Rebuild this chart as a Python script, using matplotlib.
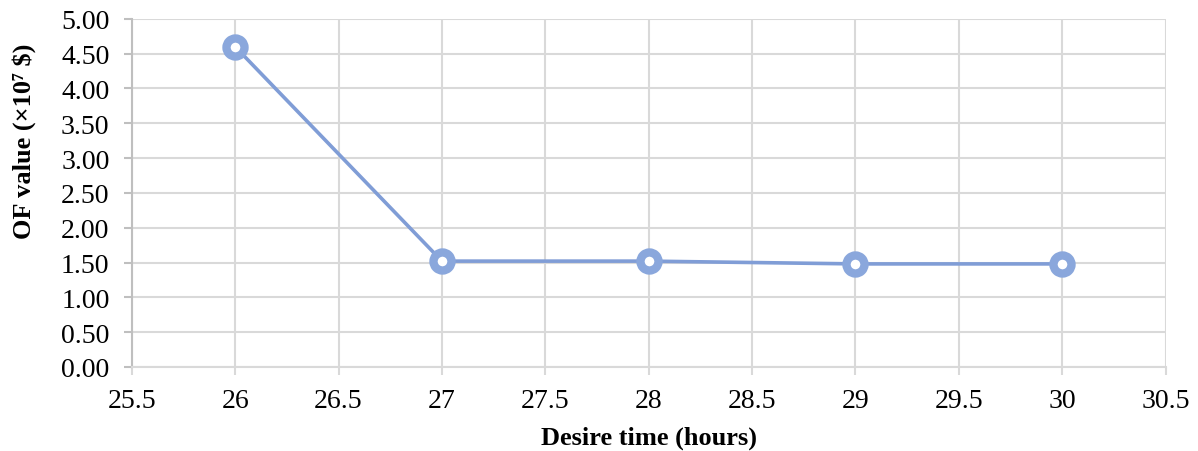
import numpy as np
from matplotlib import pyplot as plt

# data
hours = [26, 27, 28, 29, 30]
of_value = [4.60, 1.52, 1.52, 1.48, 1.48]

x_ticks = [25.5, 26, 26.5, 27, 27.5, 28, 28.5, 29, 29.5, 30, 30.5]
y_ticks = [0.0, 0.5, 1.0, 1.5, 2.0, 2.5, 3.0, 3.5, 4.0, 4.5, 5.0]


def plotter():
    plt.rcParams['font.family'] = ['Liberation Serif', 'DejaVu Serif']

    fig = plt.figure(figsize=(11.98, 4.52), dpi=100)
    ax = fig.add_axes([0.110, 0.186, 0.863, 0.770])

    ax.plot(hours, of_value, c='#809dd6', lw=2.6, zorder=3,
            marker='o', ms=13, mew=6, mfc='white', mec='#8aa7dc')

    ax.set_xlim(25.5, 30.5)
    ax.set_ylim(0, 5)
    ax.set_xticks(x_ticks)
    ax.set_xticklabels([f'{t:g}' for t in x_ticks])
    ax.set_yticks(y_ticks)
    ax.set_yticklabels([f'{t:.2f}' for t in y_ticks])

    ax.grid(True, color='#d9d9d9', lw=1.5)
    ax.set_axisbelow(True)
    for s in ['top', 'right']:
        ax.spines[s].set_visible(False)
    ax.spines['left'].set_color('#bfbfbf')
    ax.spines['left'].set_linewidth(1.5)
    ax.spines['bottom'].set_color('#d9d9d9')
    ax.spines['bottom'].set_linewidth(1.5)

    ax.tick_params(axis='both', labelsize=20, length=6, width=1.5)
    ax.tick_params(axis='y', pad=10, color='#bfbfbf')
    ax.tick_params(axis='x', pad=9, color='#d9d9d9')

    ax.set_xlabel('Desire time (hours)', fontsize=19, fontweight='bold', labelpad=9)
    ax.set_ylabel('OF value (×10⁷ $)', fontsize=19, fontweight='bold')
    ax.yaxis.set_label_coords(-0.093, 0.652)

    fig.savefig('out.png', dpi=100)


if __name__ == '__main__':
    plotter()
